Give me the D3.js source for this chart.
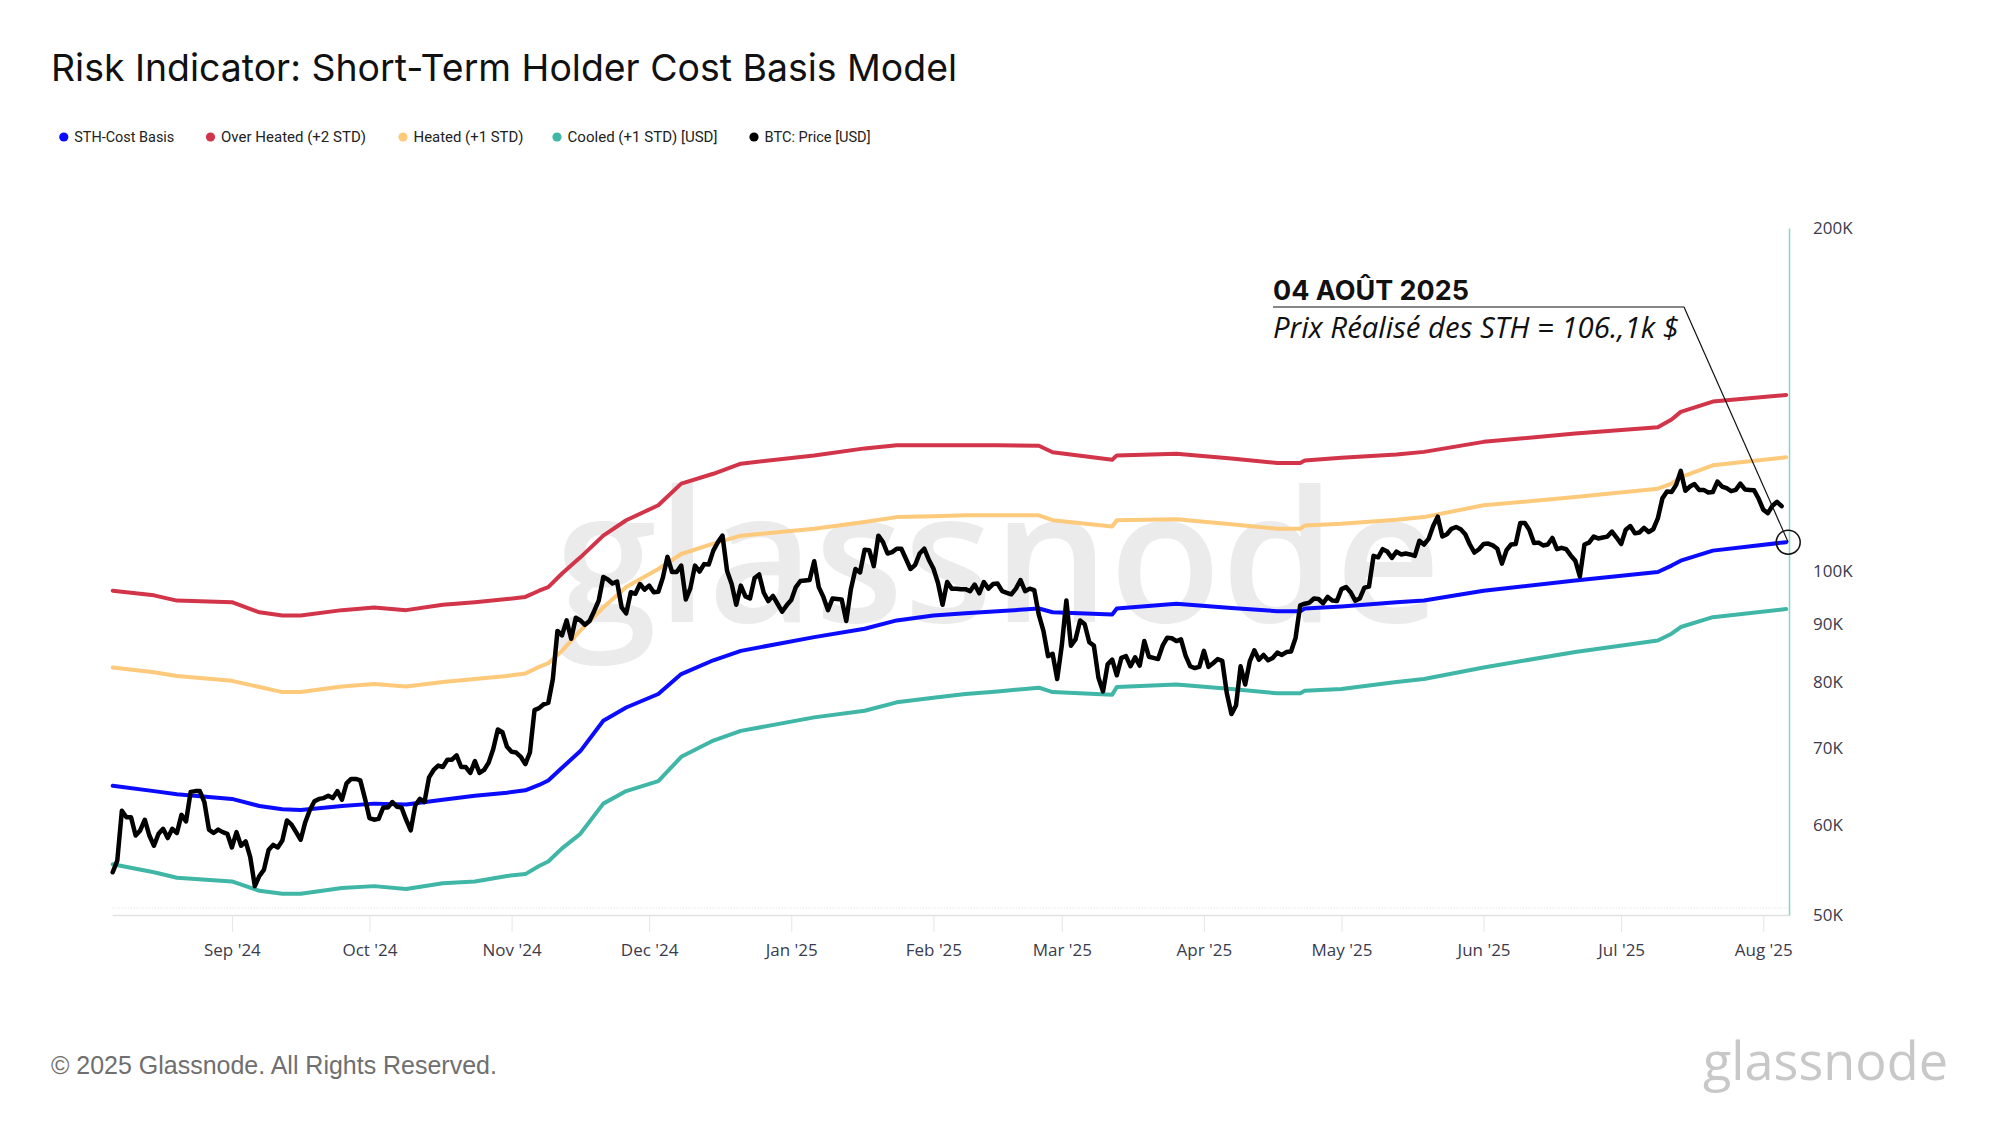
<!DOCTYPE html>
<html>
<head>
<meta charset="utf-8">
<script src="https://cdn.jsdelivr.net/npm/d3@7"></script>
<style>
  body { margin: 0; background: #fff; }
  svg { display: block; }
</style>
</head>
<body>
<svg id="chart" width="2000" height="1125"></svg>
<script>
// ---- data (values in thousands of USD) ----
const seriesNames = ["STH-Cost Basis", "Over Heated (+2 STD)", "Heated (+1 STD)", "Cooled (+1 STD) [USD]", "BTC: Price [USD]"];
const seriesColors = ["#0b0bff", "#d2344a", "#fdc97b", "#40b6a6", "#000000"];

const bandDates = ["2024-08-06", "2024-08-15", "2024-08-20", "2024-09-01", "2024-09-07", "2024-09-12", "2024-09-16",
  "2024-09-25", "2024-10-02", "2024-10-09", "2024-10-17", "2024-10-24", "2024-10-31", "2024-11-04", "2024-11-07",
  "2024-11-09", "2024-11-12", "2024-11-16", "2024-11-21", "2024-11-26", "2024-12-03", "2024-12-08", "2024-12-15",
  "2024-12-21", "2025-01-06", "2025-01-17", "2025-01-24", "2025-02-01", "2025-02-08", "2025-02-15", "2025-02-24",
  "2025-02-27", "2025-03-12", "2025-03-13", "2025-03-26", "2025-04-07", "2025-04-17", "2025-04-22", "2025-04-23",
  "2025-05-01", "2025-05-13", "2025-05-19", "2025-06-01", "2025-06-21", "2025-07-09", "2025-07-12", "2025-07-14",
  "2025-07-21", "2025-08-06"];

const sthCostBasis = [64.9, 64.2, 63.8, 63.2, 62.3, 61.9, 61.8, 62.3, 62.6, 62.5, 63.1, 63.6, 64.0, 64.3, 65.0,
  65.6, 67.3, 69.6, 74.0, 76.0, 78.1, 81.3, 83.6, 85.2, 87.6, 89.1, 90.6, 91.5, 91.9, 92.3, 92.8,
  92.1, 91.7, 92.8, 93.7, 92.9, 92.3, 92.3, 92.8, 93.2, 94.0, 94.3, 96.2, 98.2, 99.9, 101.2, 102.2,
  104.3, 106.1];

const overHeated = [96.2, 95.3, 94.3, 94.0, 92.1, 91.5, 91.5, 92.5, 93.0, 92.5, 93.5, 94.0, 94.6, 95.0, 96.2,
  96.9, 99.6, 102.9, 107.5, 110.9, 114.3, 119.4, 121.8, 124.3, 126.4, 128.2, 129.0, 129.0, 129.0, 129.0, 128.9,
  127.2, 125.3, 126.4, 126.8, 125.6, 124.5, 124.5, 125.1, 125.8, 126.6, 127.3, 129.9, 132.1, 133.8, 135.9, 138.0,
  140.9, 142.8];

const heated = [82.4, 81.6, 81.0, 80.2, 79.2, 78.4, 78.4, 79.3, 79.7, 79.3, 80.0, 80.5, 81.0, 81.4, 82.5,
  83.1, 85.2, 88.8, 93.0, 96.9, 100.5, 103.6, 105.8, 107.5, 109.0, 110.5, 111.6, 111.8, 112.0, 112.0, 112.0,
  110.9, 109.5, 110.9, 111.1, 110.0, 109.0, 109.0, 109.7, 110.1, 111.0, 111.6, 114.3, 116.2, 118.2, 119.4, 121.0,
  123.9, 125.9];

const cooled = [55.4, 54.5, 53.9, 53.5, 52.5, 52.2, 52.2, 52.8, 53.0, 52.7, 53.3, 53.5, 54.1, 54.3, 55.2,
  55.7, 57.2, 58.9, 62.6, 64.2, 65.5, 68.8, 71.1, 72.5, 74.5, 75.5, 76.8, 77.5, 78.1, 78.5, 79.1,
  78.4, 78.0, 79.2, 79.6, 78.9, 78.2, 78.2, 78.6, 78.9, 80.0, 80.5, 82.4, 85.0, 87.0, 88.2, 89.4,
  91.2, 92.7];

// BTC price, one value per day, each row starts on the date in btcMonthStart
const btcMonthStart = ["2024-08-06", "2024-09-01", "2024-10-01", "2024-11-01", "2024-12-01", "2025-01-01",
  "2025-02-01", "2025-03-01", "2025-04-01", "2025-05-01", "2025-06-01", "2025-07-01", "2025-08-01"];
const btcDaily = [
  [54.5, 55.8, 61.7, 60.9, 60.9, 58.7, 59.3, 60.6, 58.7, 57.5, 58.9, 59.5, 58.4, 59.5, 59.0, 61.2, 60.4, 64.1, 64.2, 64.2, 62.8, 59.4, 59.0, 59.4, 59.1, 58.9],
  [57.3, 59.1, 57.5, 58.0, 56.2, 53.0, 54.1, 54.8, 57.0, 57.6, 57.3, 58.1, 60.5, 60.0, 59.1, 58.2, 60.3, 61.8, 62.9, 63.2, 63.3, 63.6, 63.3, 64.2, 63.1, 65.2, 65.8, 65.8, 65.6, 63.3],
  [60.8, 60.6, 60.7, 62.1, 62.1, 62.8, 62.2, 62.1, 60.6, 59.3, 62.4, 63.2, 62.8, 66.0, 67.0, 67.6, 67.4, 68.4, 68.4, 69.0, 67.4, 67.4, 66.6, 68.2, 66.6, 67.0, 68.0, 69.9, 72.7, 72.3, 70.2],
  [69.5, 69.4, 68.8, 67.8, 69.4, 75.6, 75.9, 76.5, 76.7, 80.5, 88.7, 87.9, 90.6, 87.3, 91.1, 90.6, 89.8, 90.5, 92.3, 94.3, 98.9, 98.4, 97.6, 98.0, 93.0, 91.9, 95.9, 95.6, 97.5, 96.4],
  [97.2, 95.9, 96.0, 98.8, 103.0, 99.9, 99.9, 101.2, 94.5, 96.7, 101.2, 100.0, 101.5, 101.4, 104.3, 106.1, 107.5, 100.1, 97.5, 93.5, 97.2, 95.1, 94.7, 98.7, 99.4, 95.8, 94.2, 95.2, 93.7, 92.2, 93.4],
  [94.4, 96.9, 98.1, 98.2, 98.3, 102.1, 96.9, 95.0, 92.5, 94.7, 94.6, 94.5, 90.5, 96.5, 100.5, 99.8, 104.5, 104.4, 101.1, 107.5, 106.1, 103.7, 104.0, 104.7, 104.7, 102.6, 100.5, 101.3, 103.7, 104.7, 102.4],
  [100.6, 97.7, 93.5, 97.9, 96.6, 96.6, 96.5, 96.5, 96.1, 97.4, 95.7, 97.9, 96.6, 97.5, 97.6, 96.1, 95.8, 95.5, 96.6, 98.3, 96.1, 96.6, 96.3, 91.6, 88.7, 84.3, 84.7, 80.5],
  [86.1, 94.3, 86.1, 87.2, 90.6, 89.9, 86.7, 86.1, 80.7, 78.5, 82.9, 83.7, 81.1, 84.0, 84.3, 82.6, 84.1, 82.7, 86.9, 84.2, 84.0, 83.8, 86.1, 87.5, 87.4, 86.9, 87.2, 84.4, 82.6, 82.3, 82.5],
  [85.2, 82.5, 83.1, 83.8, 83.5, 78.2, 75.0, 76.3, 82.6, 79.6, 83.4, 85.3, 83.7, 84.5, 83.6, 84.0, 84.9, 84.5, 85.0, 85.1, 87.5, 93.4, 93.7, 93.9, 94.7, 94.6, 93.8, 95.0, 94.3, 94.2],
  [96.5, 96.9, 95.9, 94.3, 94.7, 96.8, 97.0, 103.2, 102.9, 104.6, 104.1, 102.8, 104.1, 103.5, 103.7, 103.5, 103.2, 106.4, 105.6, 106.8, 109.6, 111.7, 107.3, 107.8, 109.0, 109.4, 108.9, 107.8, 105.6, 103.9, 104.6],
  [105.7, 105.8, 105.4, 104.7, 101.6, 104.4, 105.6, 105.7, 110.3, 110.3, 108.7, 105.9, 106.0, 105.4, 105.6, 107.0, 104.6, 104.9, 104.6, 103.3, 102.2, 99.0, 105.6, 106.0, 107.3, 106.9, 107.1, 107.3, 108.4, 107.1],
  [105.7, 108.8, 109.6, 108.0, 108.2, 109.2, 108.3, 108.9, 111.3, 115.9, 117.5, 117.4, 119.1, 122.5, 117.7, 118.7, 119.3, 117.9, 117.9, 117.3, 117.4, 119.9, 118.7, 118.3, 117.6, 117.9, 119.4, 118.0, 117.9, 117.8, 115.8],
  [113.3, 112.5, 114.2, 115.1, 114.1]
];

const yTickValues = [50000, 60000, 70000, 80000, 90000, 100000, 200000];
const yTickLabels = ["50K", "60K", "70K", "80K", "90K", "100K", "200K"];
const xTickDates = ["2024-09-01", "2024-10-01", "2024-11-01", "2024-12-01", "2025-01-01", "2025-02-01",
  "2025-03-01", "2025-04-01", "2025-05-01", "2025-06-01", "2025-07-01", "2025-08-01"];
const xTickLabels = ["Sep '24", "Oct '24", "Nov '24", "Dec '24", "Jan '25", "Feb '25",
  "Mar '25", "Apr '25", "May '25", "Jun '25", "Jul '25", "Aug '25"];

const titleText = "Risk Indicator: Short-Term Holder Cost Basis Model";
const annotationTitle = "04 AOÛT 2025";
const annotationText = "Prix Réalisé des STH = 106.,1k $";
const footerText = "© 2025 Glassnode. All Rights Reserved.";

// ---- helpers ----
const parseDate = d3.utcParse("%Y-%m-%d");

// scale a text's font size so that it spans the given width
const fitWidth = function(sel, w) {
  const len = sel.node().getComputedTextLength();
  const fs = parseFloat(sel.attr("font-size"));
  sel.attr("font-size", (fs * w / len).toFixed(2));
  return sel;
};

const svg = d3.select("#chart");

const margin = {left: 112.7, top: 228};
const plotRight = 1789;
const plotBottom = 915;

const x = d3.scaleUtc()
  .domain([parseDate("2024-08-06"), parseDate("2025-08-06")])
  .range([margin.left, 1786.2]);

const y = d3.scaleLog()
  .domain([50000, 200000])
  .range([plotBottom, margin.top]);

// ---- series ----
const bandSeries = [
  {name: seriesNames[1], color: seriesColors[1], values: overHeated},
  {name: seriesNames[2], color: seriesColors[2], values: heated},
  {name: seriesNames[0], color: seriesColors[0], values: sthCostBasis},
  {name: seriesNames[3], color: seriesColors[3], values: cooled}
].map(s => ({
  name: s.name,
  color: s.color,
  points: bandDates.map((d, i) => ({date: parseDate(d), v: s.values[i] * 1000}))
}));

const btcPoints = [];
btcDaily.forEach((row, m) => {
  const start = parseDate(btcMonthStart[m]);
  row.forEach((v, i) => btcPoints.push({date: d3.utcDay.offset(start, i), v: v * 1000}));
});

// ---- watermark ----
const wm = svg.append("text")
  .attr("x", 555).attr("y", 622)
  .attr("font-family", "'Open Sans', sans-serif")
  .attr("font-weight", 600)
  .attr("font-size", 170)
  .attr("fill", "#ebebeb")
  .text("glassnode");
fitWidth(wm, 886);

// ---- title + legend ----
const title = svg.append("text")
  .attr("x", 51).attr("y", 81)
  .attr("font-family", "Inter, 'Open Sans', sans-serif")
  .attr("font-size", 38)
  .attr("fill", "#111")
  .text(titleText);
fitWidth(title, 906);

const legendTextWidths = [100, 145, 110, 150, 106];
const legendDotX = [63.8, 210.5, 403, 557, 754];
const legend = svg.append("g").attr("transform", "translate(0, 137)");
seriesNames.forEach((name, i) => {
  const g = legend.append("g").attr("transform", `translate(${legendDotX[i]}, 0)`);
  g.append("circle").attr("r", 4.6).attr("fill", seriesColors[i]);
  g.append("text")
    .attr("x", 10.5).attr("dy", "0.35em")
    .attr("font-family", "Roboto, sans-serif")
    .attr("font-size", 15)
    .attr("fill", "#222")
    .attr("textLength", legendTextWidths[i])
    .attr("lengthAdjust", "spacingAndGlyphs")
    .text(name);
});

// ---- axes ----
svg.append("line")
  .attr("x1", margin.left).attr("x2", plotRight)
  .attr("y1", plotBottom - 7).attr("y2", plotBottom - 7)
  .attr("stroke", "#dcdcdc").attr("stroke-dasharray", "1,2");

const xAxis = d3.axisBottom(x)
  .tickValues(xTickDates.map(parseDate))
  .tickFormat((d, i) => xTickLabels[i])
  .tickSize(17)
  .tickSizeOuter(0)
  .tickPadding(12);

const xAxisG = svg.append("g")
  .attr("transform", `translate(0, ${plotBottom})`)
  .call(xAxis);
xAxisG.select(".domain")
  .attr("d", `M${margin.left},0.5H${plotRight}`)
  .attr("stroke", "#e2e2e2").attr("stroke-width", 1.5);
xAxisG.selectAll(".tick line").attr("stroke", "#e6e6e6");
xAxisG.selectAll(".tick text")
  .attr("font-family", "'Open Sans', sans-serif")
  .attr("font-size", 17)
  .attr("fill", "#3a3b4d");

const yAxis = d3.axisRight(y)
  .tickValues(yTickValues)
  .tickFormat((d, i) => yTickLabels[i])
  .tickSize(0)
  .tickSizeOuter(0)
  .tickPadding(24);

const yAxisG = svg.append("g")
  .attr("transform", `translate(${plotRight}, 0)`)
  .call(yAxis);
yAxisG.select(".domain").attr("stroke", "#8fd6ca").attr("stroke-width", 1.6);
yAxisG.selectAll(".tick text")
  .attr("font-family", "'Open Sans', sans-serif")
  .attr("font-size", 17)
  .attr("fill", "#3a3b4d");

// ---- lines ----
const line = d3.line()
  .x(d => x(d.date))
  .y(d => y(d.v));

svg.append("g").selectAll("path")
  .data(bandSeries)
  .enter()
  .append("path")
    .attr("d", d => line(d.points))
    .attr("fill", "none")
    .attr("stroke", d => d.color)
    .attr("stroke-width", 4)
    .attr("stroke-linejoin", "round")
    .attr("stroke-linecap", "round");

svg.append("path")
  .attr("d", line(btcPoints))
  .attr("fill", "none")
  .attr("stroke", seriesColors[4])
  .attr("stroke-width", 4.5)
  .attr("stroke-linejoin", "round")
  .attr("stroke-linecap", "round");

// ---- annotation ----
const sthLast = bandSeries[2].points[bandSeries[2].points.length - 1];
const cx = x(sthLast.date) + 2, cy = y(sthLast.v);
const ann = svg.append("g");
const annTitle = ann.append("text")
  .attr("x", 1273).attr("y", 300)
  .attr("font-family", "Inter, 'Open Sans', sans-serif")
  .attr("font-weight", 700)
  .attr("font-size", 25)
  .attr("fill", "#111")
  .text(annotationTitle);
fitWidth(annTitle, 196);
ann.append("line")
  .attr("x1", 1273).attr("x2", 1684)
  .attr("y1", 307).attr("y2", 307)
  .attr("stroke", "#111").attr("stroke-width", 1.2);
const annText = ann.append("text")
  .attr("x", 1273).attr("y", 338)
  .attr("font-family", "'Open Sans', sans-serif")
  .attr("font-style", "italic")
  .attr("font-size", 25)
  .attr("fill", "#111")
  .text(annotationText);
fitWidth(annText, 406);
ann.append("line")
  .attr("x1", 1684).attr("y1", 307)
  .attr("x2", cx).attr("y2", cy)
  .attr("stroke", "#111").attr("stroke-width", 1.2);
ann.append("circle")
  .attr("cx", cx).attr("cy", cy).attr("r", 12)
  .attr("fill", "none").attr("stroke", "#111").attr("stroke-width", 1.5);

// ---- footer ----
const foot = svg.append("text")
  .attr("x", 51).attr("y", 1074)
  .attr("font-family", "'Liberation Sans', Arial, sans-serif")
  .attr("font-size", 23)
  .attr("fill", "#6f6f6f")
  .text(footerText);
fitWidth(foot, 446);

const logo = svg.append("text")
  .attr("x", 1703).attr("y", 1080)
  .attr("font-family", "'Open Sans', sans-serif")
  .attr("font-size", 52)
  .attr("fill", "#c8c8c8")
  .text("glassnode");
fitWidth(logo, 245);
</script>
</body>
</html>
